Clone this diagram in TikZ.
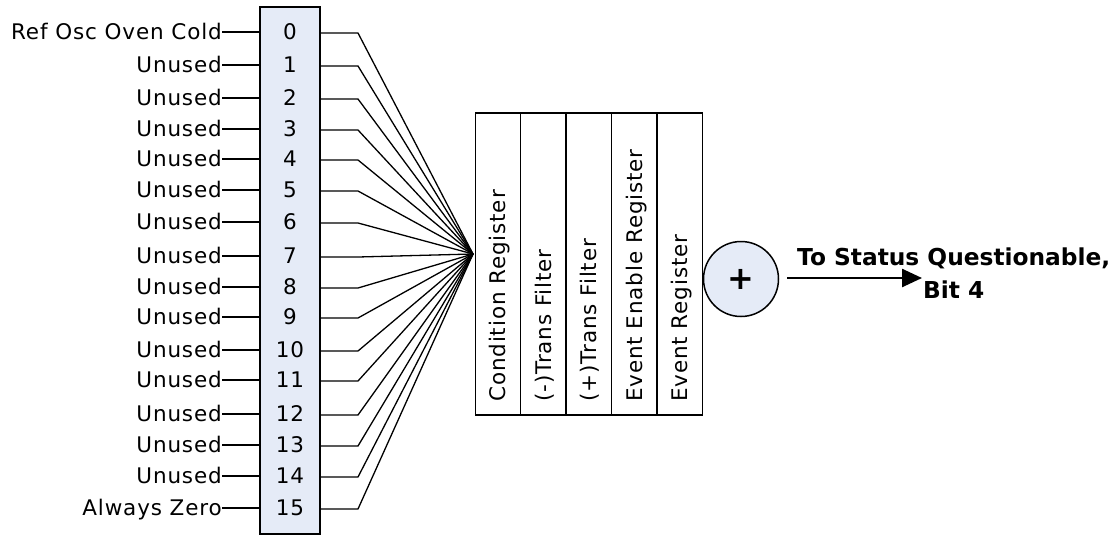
\documentclass[tikz,border=0pt]{standalone}
\usepackage{fontspec}
\setmainfont{DejaVu Sans}[LetterSpace=4]
\newfontfamily\boldlbl{DejaVu Sans Bold}
\usetikzlibrary{arrows.meta,calc}
\definecolor{regfill}{HTML}{E5EBF7}
\begin{document}
\begin{tikzpicture}[x=1pt,y=-1pt,
  lbl/.style={inner sep=0pt,text height=15.6pt,text depth=0pt,font=\fontsize{21.5}{25}\selectfont},
  wire/.style={line width=1.3pt},
  col/.style={draw,line width=1.5pt,minimum width=45.4pt,minimum height=302pt,inner sep=0pt},
  coltext/.style={lbl,rotate=90,anchor=west}
]
\useasboundingbox (0,0) rectangle (1117,536);
% bit box
\node[draw,line width=2pt,fill=regfill,minimum width=60pt,minimum height=527pt,inner sep=0pt] (bits) at (290,270.5) {};
\def\rows{0/32/Ref Osc Oven Cold,1/65/Unused,2/98/Unused,3/129/Unused,4/159/Unused,5/190/Unused,6/222/Unused,7/256/Unused,8/287/Unused,9/317/Unused,10/350/Unused,11/380/Unused,12/414/Unused,13/445/Unused,14/476/Unused,15/508/Always Zero}
\coordinate (fan) at (473,254);
\foreach \i/\y/\t in \rows {
  \node[lbl] (n\i) at (290,\y) {\i};
  \node[lbl,anchor=east] (l\i) at (222,\y) {\t};
  \draw[wire] (l\i.east) -- (bits.west |- l\i.east);
  \coordinate (k\i) at (358,\y+1);
  \draw[wire] (bits.east |- k\i) -- (k\i) -- (fan);
}
% register columns
\node[col] (c1) at (498,264) {};
\node[col] (c2) at (543.4,264) {};
\node[col] (c3) at (588.8,264) {};
\node[col] (c4) at (634.2,264) {};
\node[col] (c5) at (679.6,264) {};
\node[coltext] (t1) at (c1.center |- 0,402) {Condition Register};
\node[coltext] (t2) at (c2.center |- 0,402) {(-)Trans Filter};
\node[coltext] (t3) at (c3.center |- 0,402) {(+)Trans Filter};
\node[coltext] (t4) at (c4.center |- 0,402) {Event Enable Register};
\node[coltext] (t5) at (c5.center |- 0,402) {Event Register};
% summing circle
\node[draw,circle,line width=1.5pt,fill=regfill,minimum size=75pt,inner sep=0pt,font=\boldlbl\fontsize{32}{36}\selectfont] (plus) at (741,279) {+};
\coordinate (tip) at (922,278);
\draw[line width=2.5pt,-{Triangle[length=20pt,width=18pt]}] (plus.east |- tip) ++(8,0) -- (tip);
\node[inner sep=0pt,anchor=base west,font=\boldlbl\fontsize{23.3}{27}\selectfont] (out1) at (797,265) {To Status Questionable,};
\node[inner sep=0pt,anchor=base west,font=\boldlbl\fontsize{23.3}{27}\selectfont] (out2) at (923,298) {Bit 4};
\end{tikzpicture}
\end{document}
